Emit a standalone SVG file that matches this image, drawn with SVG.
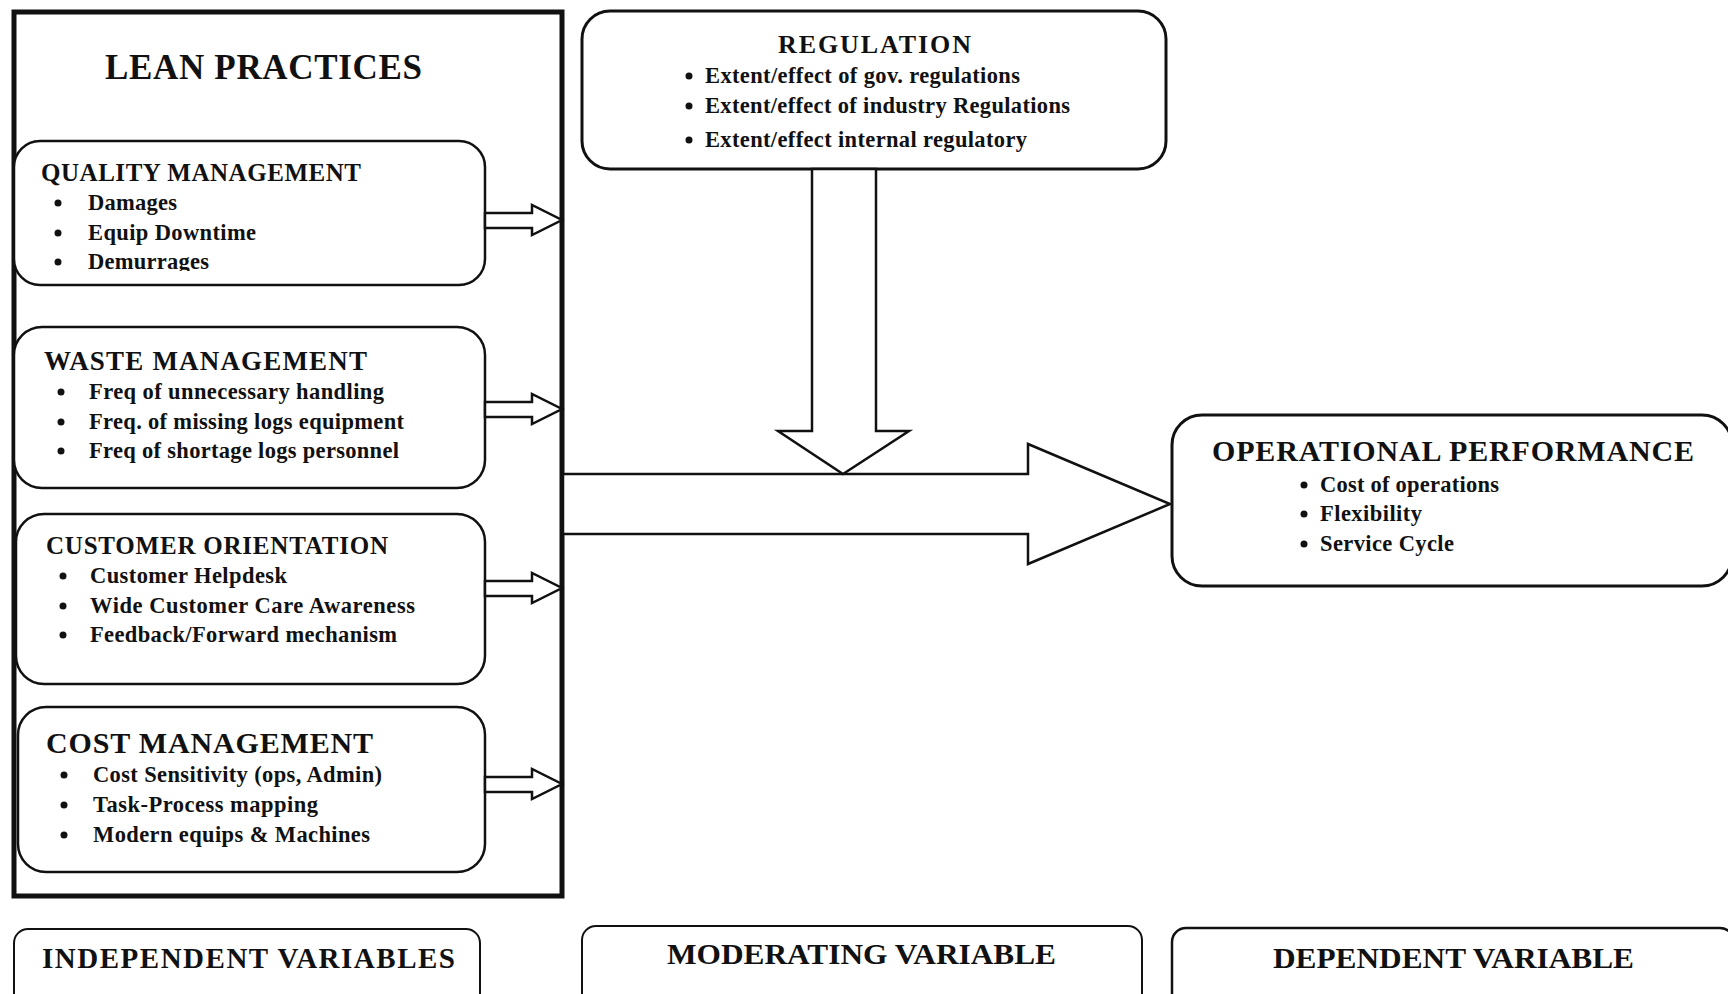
<svg xmlns="http://www.w3.org/2000/svg" width="1728" height="994" viewBox="0 0 1728 994">
<style>
text{font-family:"Liberation Serif","Times New Roman",serif;font-weight:bold;fill:#111}
.box{fill:#fff;stroke:#111;stroke-width:2.5}
.arr{fill:#fff;stroke:#111;stroke-width:2.5;stroke-linejoin:miter}
.h1{font-size:35px}
.h2{font-size:25px}
.b{font-size:22.5px}
.dot{fill:#111}
</style>
<defs>
<clipPath id="qmclip"><rect x="20" y="140" width="460" height="131"/></clipPath>
</defs>
<rect x="0" y="0" width="1728" height="994" fill="#fff"/>

<g id="lean-practices">
<rect x="14" y="12" width="548" height="884" fill="#fff" stroke="#111" stroke-width="5"/>
<text class="h1" x="105" y="79" textLength="317">LEAN PRACTICES</text>
</g>

<g id="quality-management">
<rect class="box" x="14" y="141" width="471" height="144" rx="26"/>
<text class="h2" x="41" y="181" textLength="320">QUALITY MANAGEMENT</text>
<g clip-path="url(#qmclip)">
<circle class="dot" cx="58" cy="203" r="3.5"/>
<text class="b" x="88" y="210" textLength="89">Damages</text>
<circle class="dot" cx="58" cy="233" r="3.5"/>
<text class="b" x="88" y="240" textLength="168">Equip Downtime</text>
<circle class="dot" cx="58" cy="262" r="3.5"/>
<text class="b" x="88" y="269" textLength="121">Demurrages</text>
</g>
</g>

<g id="waste-management">
<rect class="box" x="14" y="327" width="471" height="161" rx="28"/>
<text class="h2" x="44" y="370" textLength="323" style="font-size:27px">WASTE MANAGEMENT</text>
<circle class="dot" cx="61" cy="392" r="3.5"/>
<text class="b" x="89" y="399" textLength="295">Freq of unnecessary handling</text>
<circle class="dot" cx="61" cy="422" r="3.5"/>
<text class="b" x="89" y="429" textLength="315">Freq. of missing logs equipment</text>
<circle class="dot" cx="61" cy="451" r="3.5"/>
<text class="b" x="89" y="458" textLength="310">Freq of shortage logs personnel</text>
</g>

<g id="customer-orientation">
<rect class="box" x="16" y="514" width="469" height="170" rx="28"/>
<text class="h2" x="46" y="554" textLength="342">CUSTOMER ORIENTATION</text>
<circle class="dot" cx="63" cy="576" r="3.5"/>
<text class="b" x="90" y="583" textLength="197">Customer Helpdesk</text>
<circle class="dot" cx="63" cy="606" r="3.5"/>
<text class="b" x="90" y="613" textLength="325">Wide Customer Care Awareness</text>
<circle class="dot" cx="63" cy="635" r="3.5"/>
<text class="b" x="90" y="642" textLength="307">Feedback/Forward mechanism</text>
</g>

<g id="cost-management">
<rect class="box" x="18" y="707" width="467" height="165" rx="28"/>
<text class="h2" x="46" y="753" textLength="327" style="font-size:30px">COST MANAGEMENT</text>
<circle class="dot" cx="64" cy="775" r="3.5"/>
<text class="b" x="93" y="782" textLength="289">Cost Sensitivity (ops, Admin)</text>
<circle class="dot" cx="64" cy="805" r="3.5"/>
<text class="b" x="93" y="812" textLength="225">Task-Process mapping</text>
<circle class="dot" cx="64" cy="835" r="3.5"/>
<text class="b" x="93" y="842" textLength="277">Modern equips &amp; Machines</text>
</g>

<g id="regulation">
<rect x="582" y="11" width="584" height="158" rx="28" fill="#fff" stroke="#111" stroke-width="3"/>
<text class="h2" x="778" y="53" textLength="193" style="font-size:26px">REGULATION</text>
<circle class="dot" cx="689" cy="76" r="3.5"/>
<text class="b" x="705" y="83" textLength="315">Extent/effect of gov. regulations</text>
<circle class="dot" cx="689" cy="106" r="3.5"/>
<text class="b" x="705" y="113" textLength="365">Extent/effect of industry Regulations</text>
<circle class="dot" cx="689" cy="140" r="3.5"/>
<text class="b" x="705" y="147" textLength="322">Extent/effect internal regulatory</text>
</g>

<g id="operational-performance">
<rect x="1172" y="415" width="560" height="171" rx="30" fill="#fff" stroke="#111" stroke-width="3"/>
<text class="h2" x="1212" y="461" textLength="482" style="font-size:30px">OPERATIONAL PERFORMANCE</text>
<circle class="dot" cx="1304" cy="485" r="3.5"/>
<text class="b" x="1320" y="492" textLength="179">Cost of operations</text>
<circle class="dot" cx="1304" cy="514" r="3.5"/>
<text class="b" x="1320" y="521" textLength="102">Flexibility</text>
<circle class="dot" cx="1304" cy="544" r="3.5"/>
<text class="b" x="1320" y="551" textLength="134">Service Cycle</text>
</g>

<g id="independent-variables">
<rect x="14" y="929" width="466" height="80" rx="14" fill="#fff" stroke="#111" stroke-width="2"/>
<text class="h2" x="42" y="968" textLength="413" style="font-size:29px">INDEPENDENT VARIABLES</text>
</g>

<g id="moderating-variable">
<rect x="582" y="926" width="560" height="84" rx="14" fill="#fff" stroke="#111" stroke-width="2"/>
<text class="h2" x="667" y="964" textLength="389" lengthAdjust="spacingAndGlyphs" style="font-size:30px">MODERATING VARIABLE</text>
</g>

<g id="dependent-variable">
<rect x="1172" y="928" width="562" height="82" rx="14" fill="#fff" stroke="#111" stroke-width="2.5"/>
<text class="h2" x="1273" y="968" textLength="361" lengthAdjust="spacingAndGlyphs" style="font-size:30px">DEPENDENT VARIABLE</text>
</g>

<g id="connectors">
<polygon class="arr" points="485,213 532,213 532,205 562,220 532,235 532,228 485,228"/>
<polygon class="arr" points="485,402 532,402 532,394 562,409 532,424 532,417 485,417"/>
<polygon class="arr" points="485,581 532,581 532,573 562,588 532,603 532,596 485,596"/>
<polygon class="arr" points="485,777 532,777 532,769 562,784 532,799 532,792 485,792"/>
<polygon class="arr" points="563,474 1028,474 1028,444 1170,504 1028,564 1028,534 563,534"/>
<polygon class="arr" points="812,169 876,169 876,431 909,431 843,474 778,431 812,431"/>
</g>
</svg>
